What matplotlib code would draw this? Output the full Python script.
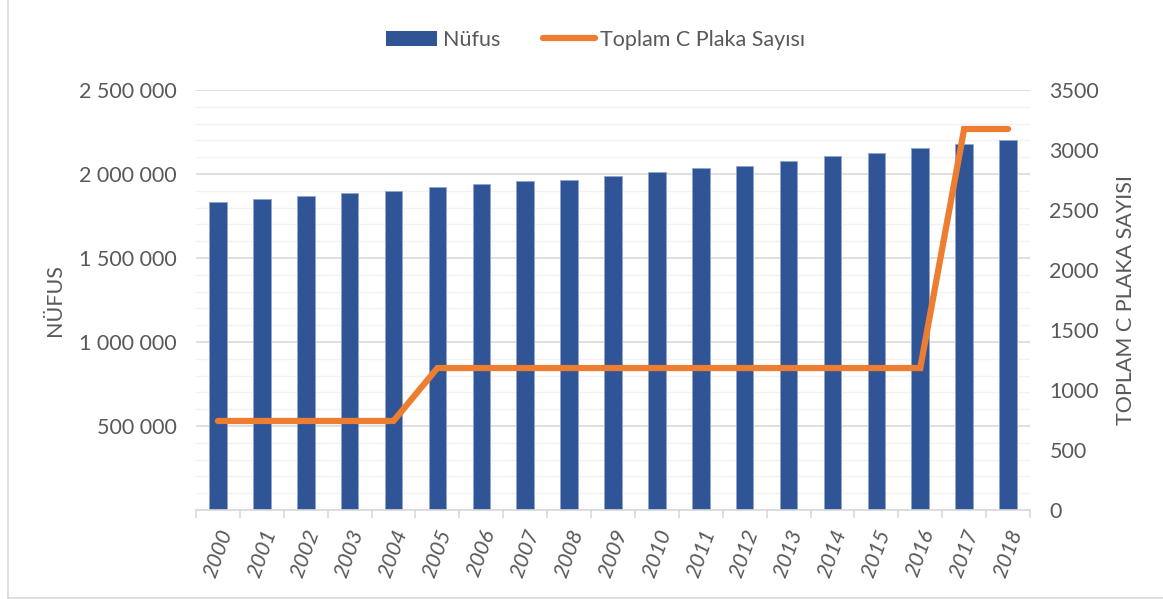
import numpy as np
import matplotlib
matplotlib.use("Agg")
import matplotlib.pyplot as plt
from matplotlib.ticker import FuncFormatter, MultipleLocator
from matplotlib.lines import Line2D
from matplotlib.patches import Patch

plt.rcParams['font.family'] = ['Lato', 'DejaVu Sans']

years = [str(y) for y in range(2000, 2019)]
nufus = [1833000, 1851000, 1869000, 1885000, 1901000, 1921000, 1939000,
         1957000, 1966000, 1988000, 2010000, 2034000, 2050000, 2076000,
         2105000, 2127000, 2157000, 2177000, 2200000]
plaka = [742, 742, 742, 742, 742, 1183, 1183, 1183, 1183, 1183, 1183,
         1183, 1183, 1183, 1183, 1183, 1183, 3175, 3175]

blue = '#2F5597'
orange = '#ED7D31'
txt = '#595959'

fig = plt.figure(figsize=(11.63, 5.99), dpi=100)
ax = fig.add_axes([196/1163, 1 - 510/599, (1030-196)/1163, 420/599])
x = np.arange(len(years))

ax.bar(x, nufus, width=0.4, color=blue, edgecolor='#8FA6D0', linewidth=0.6, zorder=3)
ax.set_ylim(0, 2500000)
ax.set_xlim(-0.5, len(years) - 0.5)
ax.yaxis.set_major_locator(MultipleLocator(500000))
ax.yaxis.set_minor_locator(MultipleLocator(100000))
ax.yaxis.set_major_formatter(FuncFormatter(
    lambda v, p: '' if v == 0 else f'{int(v):,}'.replace(',', ' ')))
ax.grid(axis='y', which='major', color='#D9D9D9', linewidth=1.2, zorder=0)
ax.grid(axis='y', which='minor', color='#F2F2F2', linewidth=1.0, zorder=0)
ax.tick_params(axis='y', which='both', length=0, pad=14, labelsize=15.5, labelcolor=txt)
for s in ['top', 'right', 'left']:
    ax.spines[s].set_visible(False)
ax.spines['bottom'].set_color('#D9D9D9')
ax.spines['bottom'].set_linewidth(1.2)
ax.spines['bottom'].set_zorder(4)

ax.set_xticks(x)
ax.set_xticklabels(years, rotation=70, fontsize=15.5, color=txt, style='italic')
ax.tick_params(axis='x', which='major', length=0, pad=12)
ax.set_xticks(np.arange(-0.5, len(years)), minor=True)
ax.tick_params(axis='x', which='minor', length=6, color='#D9D9D9', width=1.2)

ax.set_ylabel('NÜFUS', fontsize=15.5, color=txt, labelpad=10)

ax2 = ax.twinx()
ax2.plot(x, plaka, color=orange, linewidth=4.5, solid_capstyle='round',
         solid_joinstyle='miter', zorder=5)
ax2.set_ylim(0, 3500)
ax2.yaxis.set_major_locator(MultipleLocator(500))
ax2.tick_params(axis='y', length=0, pad=14, labelsize=15.5, labelcolor=txt)
for s in ['top', 'right', 'left', 'bottom']:
    ax2.spines[s].set_visible(False)
ax2.set_ylabel('TOPLAM C PLAKA SAYISI', fontsize=15.5, color=txt, labelpad=12)

handles = [Patch(facecolor=blue, label='Nüfus'),
           Line2D([0], [0], color=orange, linewidth=4.5, solid_capstyle='round',
                  label='Toplam C Plaka Sayısı')]
leg = fig.legend(handles=handles, loc='center', bbox_to_anchor=(0.512, 1 - 40/599),
                 ncol=2, frameon=False, fontsize=15.5, handlelength=2.4,
                 handletextpad=0.25, columnspacing=2.0)
for t in leg.get_texts():
    t.set_color(txt)

# chart outline
fig.add_artist(Line2D([8/1163, 8/1163], [1/599, 1], color='#D9D9D9', linewidth=1.2,
                      transform=fig.transFigure))
fig.add_artist(Line2D([8/1163, 1], [1/599, 1/599], color='#D9D9D9', linewidth=1.2,
                      transform=fig.transFigure))

fig.savefig('out.png', dpi=100)
